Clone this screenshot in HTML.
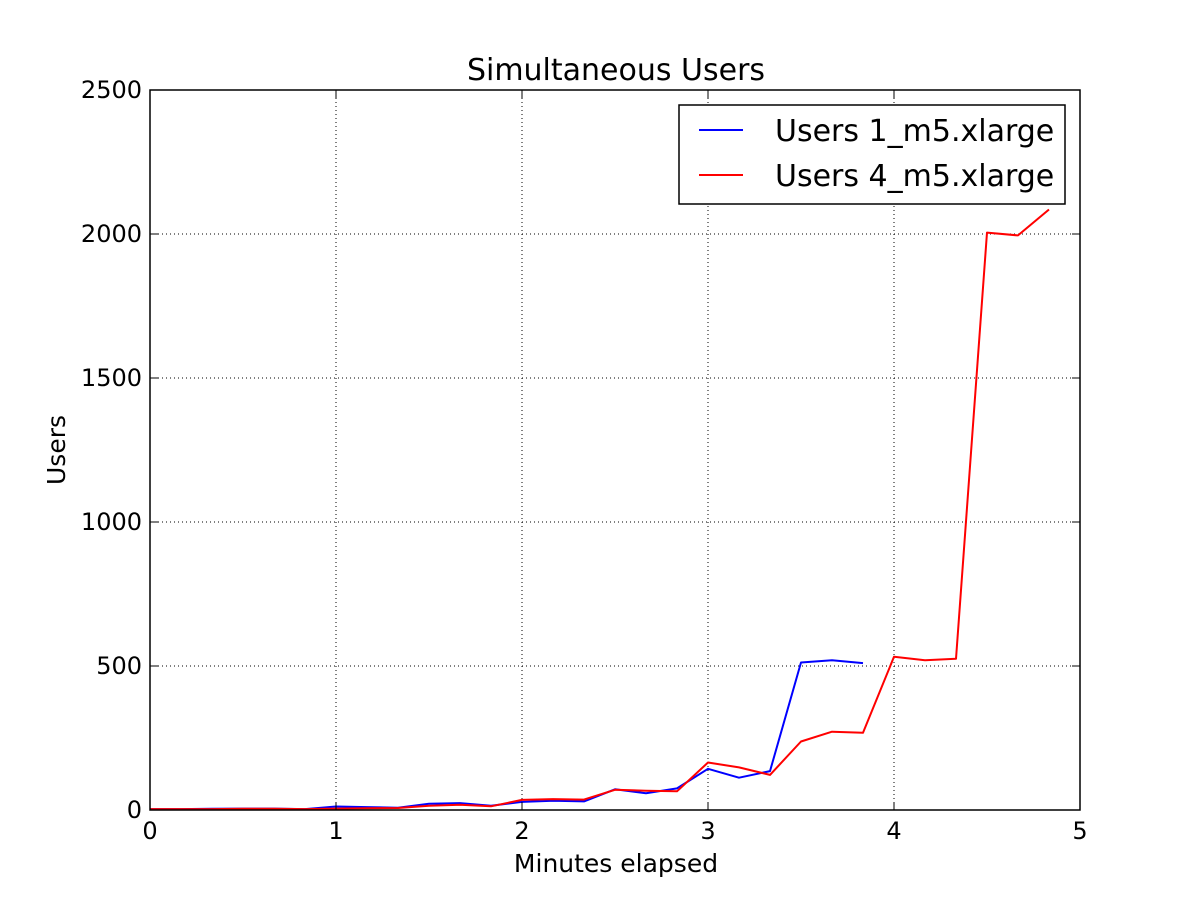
<!DOCTYPE html>
<html><head><meta charset="utf-8"><style>
html,body{margin:0;padding:0;background:#fff;}
svg text{font-family:"DejaVu Sans","Liberation Sans",sans-serif;fill:#000;}
</style></head><body>
<svg id="chart" width="1200" height="900" xmlns="http://www.w3.org/2000/svg">
<rect width="1200" height="900" fill="#fff"/>
<g id="grid"></g>
<g id="series"></g>
<rect x="150" y="90" width="930" height="720" fill="none" stroke="#000" stroke-width="1.5"/>
<g id="ticks"></g>
<text x="616" y="80" font-size="30" text-anchor="middle">Simultaneous Users</text>
<text x="616" y="872" font-size="25" text-anchor="middle">Minutes elapsed</text>
<text x="0" y="0" font-size="25" text-anchor="middle" transform="translate(65,450) rotate(-90)">Users</text>
<g>
<rect x="679" y="105" width="386" height="99" fill="#fff" stroke="#000" stroke-width="1.5"/>
<line x1="699" y1="130" x2="743" y2="130" stroke="#0000ff" stroke-width="2"/>
<text x="775" y="141" font-size="30">Users 1_m5.xlarge</text>
<line x1="699" y1="175" x2="743" y2="175" stroke="#ff0000" stroke-width="2"/>
<text x="775" y="186" font-size="30">Users 4_m5.xlarge</text>
</g>
</svg>
<script>
const xTicks = [0,1,2,3,4,5];
const yTicks = [0,500,1000,1500,2000,2500];
const users1 = [3,3,4,5,5,3,12,10,8,22,24,15,28,32,30,72,58,75,143,112,135,512,520,510];
const users4 = [3,3,3,4,4,3,5,6,7,15,18,13,35,38,36,70,67,65,165,148,122,238,272,268,532,520,525,2005,1995,2085];
const stepMin = 1/6;
const X = v => 150 + v/5*930;
const Y = v => 810 - v/2500*720;
const NS = "http://www.w3.org/2000/svg";
function mk(tag, attrs, parent){const e=document.createElementNS(NS,tag);for(const k in attrs)e.setAttribute(k,attrs[k]);parent.appendChild(e);return e;}
const grid=document.getElementById('grid'), ticks=document.getElementById('ticks'), series=document.getElementById('series');
xTicks.forEach(t=>{
  const x=X(t);
  if(t>0&&t<5){const g=mk('line',{x1:x,y1:90,x2:x,y2:810,stroke:'#000','stroke-width':1,'stroke-dasharray':'1,3'},grid);
  
  }
  const a=mk('line',{x1:x,y1:810,x2:x,y2:802,stroke:'#000','stroke-width':1},ticks);
  
  
  const b=mk('line',{x1:x,y1:90,x2:x,y2:98,stroke:'#000','stroke-width':1},ticks);
  
  
  const l=mk('text',{x:x,y:839,'font-size':24,'text-anchor':'middle'},ticks);l.textContent=t;
  
  
});
yTicks.forEach(t=>{
  const y=Y(t);
  if(t>0&&t<2500){const g=mk('line',{x1:150,y1:y,x2:1080,y2:y,stroke:'#000','stroke-width':1,'stroke-dasharray':'1,3'},grid);
  
  }
  const a=mk('line',{x1:150,y1:y,x2:158,y2:y,stroke:'#000','stroke-width':1},ticks);
  
  
  const b=mk('line',{x1:1080,y1:y,x2:1072,y2:y,stroke:'#000','stroke-width':1},ticks);
  
  
  const l=mk('text',{x:142,y:y+8,'font-size':24,'text-anchor':'end'},ticks);l.textContent=t;
  
  
});
function line(data,color,name){
  const pts=data.map((v,i)=>X(i*stepMin).toFixed(1)+','+Y(v).toFixed(1)).join(' ');
  const p=mk('polyline',{points:pts,fill:'none',stroke:color,'stroke-width':2,'stroke-linejoin':'round'},series);
  
  
}
line(users1,'#0000ff','line-users-1');
line(users4,'#ff0000','line-users-4');
</script>
</body></html>
